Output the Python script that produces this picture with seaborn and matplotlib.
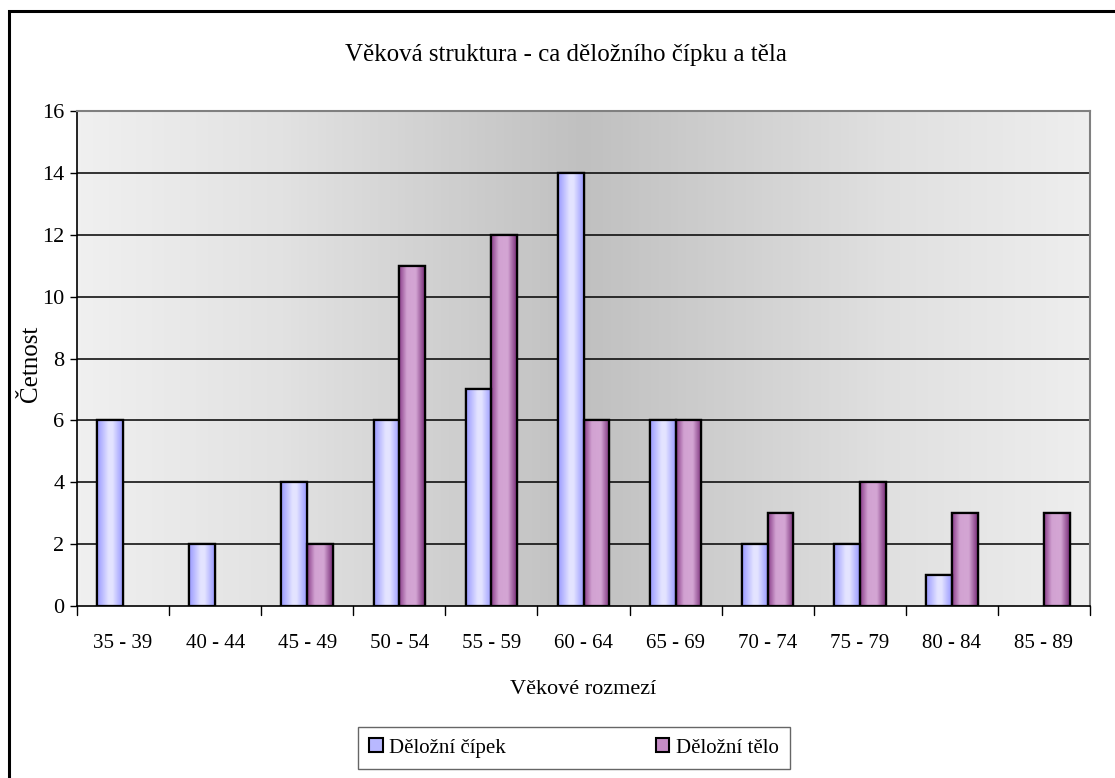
import numpy as np
import pandas as pd
import matplotlib
matplotlib.use("Agg")
import matplotlib.pyplot as plt
from matplotlib.colors import LinearSegmentedColormap
from matplotlib.patches import Rectangle
import seaborn as sns

# Age groups and counts per diagnosis
age_groups = ["35 - 39", "40 - 44", "45 - 49", "50 - 54", "55 - 59", "60 - 64",
              "65 - 69", "70 - 74", "75 - 79", "80 - 84", "85 - 89"]
cervix = [6, 2, 4, 6, 7, 14, 6, 2, 2, 1, 0]
corpus = [0, 0, 2, 11, 12, 6, 6, 3, 4, 3, 3]
series_names = ["Děložní čípek", "Děložní tělo"]
y_ticks = [0, 2, 4, 6, 8, 10, 12, 14, 16]

df = pd.DataFrame({
    "Věková skupina": age_groups * 2,
    "Četnost": cervix + corpus,
    "Diagnóza": [series_names[0]] * len(age_groups) + [series_names[1]] * len(age_groups),
})

sns.set_theme(style="white")
plt.rcParams["font.family"] = ["Liberation Serif", "DejaVu Serif"]
plt.rcParams["text.color"] = "black"
plt.rcParams["axes.labelcolor"] = "black"
plt.rcParams["xtick.color"] = "black"
plt.rcParams["ytick.color"] = "black"

fig = plt.figure(figsize=(11.15, 7.78), dpi=100)
ax = fig.add_axes([77 / 1115, 1 - 606 / 778, (1090 - 77) / 1115, (606 - 111) / 778])

# Outer chart frame
fig.patches.append(Rectangle((9 / 1115, -0.01), 1.2, 1 - 11 / 778 + 0.01,
                             transform=fig.transFigure, fill=False,
                             edgecolor="black", linewidth=2.2, zorder=0))

# Plot area background: light at the sides, darker in the middle
bg_cmap = LinearSegmentedColormap.from_list(
    "bg", [(0.0, "#f0f0f0"), (0.2, "#e2e2e2"), (0.5, "#c0c0c0"),
           (0.8, "#e0e0e0"), (1.0, "#eeeeee")])
ax.imshow(np.linspace(0, 1, 256).reshape(1, -1), cmap=bg_cmap, aspect="auto",
          extent=[0, 1, 0, 1], transform=ax.transAxes, zorder=-5)

palette = {series_names[0]: "#b8b8ff", series_names[1]: "#c58cc5"}
sns.barplot(data=df, x="Věková skupina", y="Četnost", hue="Diagnóza",
            palette=palette, width=0.56, edgecolor="black", linewidth=1.6,
            saturation=1, ax=ax, legend=False, zorder=3)

# Horizontal shading inside each bar
blue_cmap = LinearSegmentedColormap.from_list(
    "blue", [(0.0, "#9a9aff"), (0.45, "#e4e4ff"), (0.6, "#e4e4ff"), (1.0, "#9a9aff")])
purple_cmap = LinearSegmentedColormap.from_list(
    "purple", [(0.0, "#8a3e8a"), (0.3, "#d2a2d2"), (0.65, "#d4a6d4"), (1.0, "#7a2e7a")])
grad = np.linspace(0, 1, 64).reshape(1, -1)
n = len(age_groups)
for i, patch in enumerate(ax.patches[:2 * n]):
    h = patch.get_height()
    if h <= 0:
        patch.set_visible(False)
        continue
    x0 = patch.get_x()
    w = patch.get_width()
    cmap = blue_cmap if i < n else purple_cmap
    im = ax.imshow(grad, cmap=cmap, aspect="auto", extent=[x0, x0 + w, 0, h],
                   zorder=3.5, interpolation="bicubic")
    im.set_clip_path(patch)
    frame = Rectangle((x0, 0), w, h, fill=False, edgecolor="black",
                      linewidth=1.6, zorder=4)
    ax.add_patch(frame)

ax.set_xlim(-0.5, n - 0.5)
ax.set_ylim(0, 16)
ax.set_yticks(y_ticks)
ax.set_yticklabels([str(v) for v in y_ticks], fontsize=16)
ax.set_xticks(range(n))
ax.set_xticklabels(age_groups, fontsize=15)
ax.tick_params(axis="x", length=0, pad=20)
ax.tick_params(axis="y", length=5, width=1, color="black", direction="out", pad=4, left=True)
for b in np.arange(0.5, n - 0.5 + 1e-9, 1.0):
    ax.plot([b, b], [0, -0.3], color="black", lw=1, clip_on=False, zorder=5)
ax.plot([-0.5, -0.5], [0, -0.3], color="black", lw=1, clip_on=False, zorder=5)

for v in y_ticks[1:-1]:
    ax.axhline(v, color="black", lw=1.1, zorder=1)

for side in ["top", "right"]:
    ax.spines[side].set_color("#808080")
    ax.spines[side].set_linewidth(1.5)
ax.spines["left"].set_color("black")
ax.spines["bottom"].set_color("black")
ax.spines["left"].set_linewidth(1.2)
ax.spines["bottom"].set_linewidth(1.2)

ax.set_xlabel("Věkové rozmezí", fontsize=16)
ax.set_ylabel("Četnost", fontsize=18)
ax.xaxis.set_label_coords(0.5, -0.15)
ax.yaxis.set_label_coords(-0.035, 0.49)
fig.text(566 / 1115, 1 - 55 / 778, "Věková struktura - ca děložního čípku a těla",
         ha="center", va="center", fontsize=18)

# Legend
handles = [Rectangle((0, 0), 1, 1, facecolor=palette[s], edgecolor="black", linewidth=1.5)
           for s in series_names]
leg = fig.legend(handles, series_names, loc="center", ncol=2,
                 bbox_to_anchor=(574 / 1115, 1 - 748 / 778), fontsize=15,
                 frameon=True, fancybox=False, edgecolor="#404040",
                 handlelength=0.65, handleheight=0.65, handletextpad=0.3,
                 columnspacing=7.2, borderpad=0.55)
leg.get_frame().set_linewidth(1.0)

fig.savefig("out.png", dpi=100)
